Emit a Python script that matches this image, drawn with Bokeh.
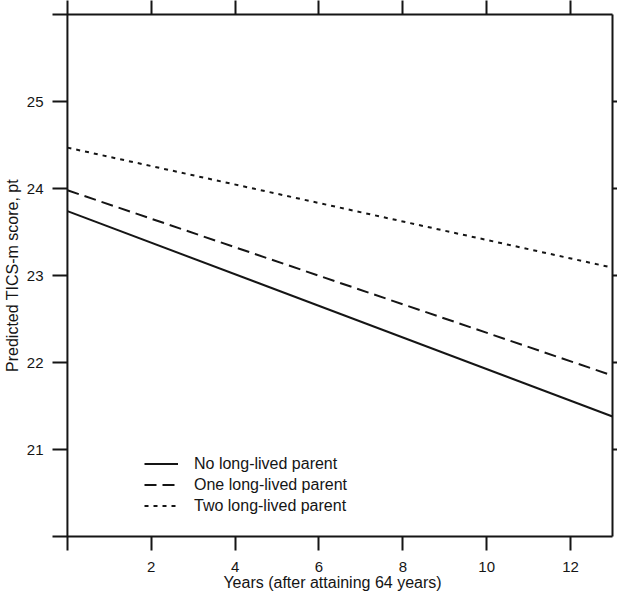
from bokeh.plotting import figure
from bokeh.models import (LinearAxis, FixedTicker, Span, Legend, LegendItem, Range1d,
                          Grid, CustomLabelingPolicy)
from bokeh.embed import file_html
from bokeh.resources import INLINE

# ---- data ----
years = [0, 13]
no_parent = [23.74, 21.38]
one_parent = [23.98, 21.85]
two_parent = [24.47, 23.09]
series_names = ["No long-lived parent", "One long-lived parent", "Two long-lived parent"]
x_ticks = [0, 2, 4, 6, 8, 10, 12]
y_ticks = [21, 22, 23, 24, 25]
x_label = "Years (after attaining 64 years)"
y_label = "Predicted TICS-m score, pt"

FONT = "Liberation Sans"
INK = "#151515"

p = figure(width=617, height=593, output_backend="svg", toolbar_location=None,
           x_range=Range1d(-0.356, 13), y_range=Range1d(20, 26),
           x_axis_location=None, y_axis_location=None,
           min_border_left=49, min_border_right=5, min_border_top=14,
           min_border_bottom=55)
p.outline_line_color = None
p.background_fill_color = "white"
p.border_fill_color = "white"
for r in list(p.center):
    if isinstance(r, Grid):
        r.visible = False

hide_labels = CustomLabelingPolicy(code="""
for (const i of indices) { indices.unset(i) }
return indices
""")


def style_axis(ax):
    ax.axis_line_color = INK
    ax.axis_line_width = 2
    ax.major_tick_line_color = INK
    ax.major_tick_line_width = 2
    ax.minor_tick_line_color = None
    ax.major_label_text_font = FONT
    ax.major_label_text_color = INK
    ax.axis_label_text_font = FONT
    ax.axis_label_text_color = INK
    ax.axis_label_text_font_style = "normal"


# bottom axis
xb = LinearAxis(ticker=FixedTicker(ticks=x_ticks), axis_label=x_label,
                major_label_overrides={0: ""})
style_axis(xb)
xb.major_tick_out = 14
xb.major_tick_in = 0
xb.major_label_text_font_size = "15px"
xb.major_label_standoff = 11
xb.axis_label_text_font_size = "16px"
xb.axis_label_standoff = -1
p.add_layout(xb, "below")

# top axis (ticks only)
xt = LinearAxis(ticker=FixedTicker(ticks=x_ticks), major_label_policy=hide_labels)
style_axis(xt)
xt.major_tick_out = 14
xt.major_tick_in = 0
xt.major_label_text_font_size = "0px"
xt.major_label_standoff = 0
p.add_layout(xt, "above")

# left axis (ticks drawn inward to the x=0 line)
yl = LinearAxis(ticker=FixedTicker(ticks=y_ticks), axis_label=y_label)
style_axis(yl)
yl.axis_line_color = None
yl.major_tick_in = 15
yl.major_tick_out = 0
yl.major_label_text_font_size = "15px"
yl.major_label_standoff = 9
yl.axis_label_text_font_size = "16px"
yl.axis_label_standoff = 3
p.add_layout(yl, "left")

# right axis (ticks only)
yr = LinearAxis(ticker=FixedTicker(ticks=y_ticks), major_label_policy=hide_labels)
style_axis(yr)
yr.major_tick_out = 5
yr.major_tick_in = 0
yr.major_label_text_font_size = "0px"
yr.major_label_standoff = 0
p.add_layout(yr, "right")

# vertical line at x = 0
p.add_layout(Span(location=0, dimension="height", line_color=INK, line_width=2))

r_no = p.line(years, no_parent, line_color=INK, line_width=2)
r_one = p.line(years, one_parent, line_color=INK, line_width=2, line_dash="12 6")
r_two = p.line(years, two_parent, line_color=INK, line_width=2, line_dash="4 5")

legend = Legend(items=[LegendItem(label=series_names[0], renderers=[r_no]),
                       LegendItem(label=series_names[1], renderers=[r_one]),
                       LegendItem(label=series_names[2], renderers=[r_two])],
                location=(92, 20))
legend.border_line_color = None
legend.background_fill_alpha = 0
legend.padding = 0
legend.margin = 0
legend.spacing = 0
legend.glyph_width = 34
legend.glyph_height = 21
legend.label_height = 21
legend.label_standoff = 16
legend.label_text_font = FONT
legend.label_text_font_size = "16px"
legend.label_text_color = INK
p.add_layout(legend)

open("out.html", "w").write(file_html(p, INLINE))
